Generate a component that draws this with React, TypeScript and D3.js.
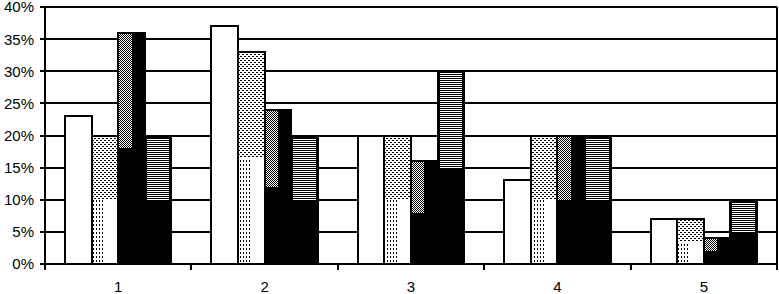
import React, { useEffect, useRef } from "react";
import * as d3 from "d3";

const categories = ["1", "2", "3", "4", "5"];
const seriesNames = ["white", "dotted", "checker", "striped"];
const whiteValues = [23, 37, 20, 13, 7];
const dottedValues = [20, 33, 20, 20, 7];
const checkerValues = [36, 24, 16, 20, 4];
const stripedValues = [20, 20, 30, 20, 10];
const yTicks = [0, 5, 10, 15, 20, 25, 30, 35, 40];

export default function App() {
  const ref = useRef<SVGSVGElement | null>(null);

  useEffect(() => {
    draw();
  }, []);

  const draw = () => {
    const svg = d3.select(ref.current);
    svg.selectAll("*").remove();

    const width = 779;
    const height = 294;
    const left = 45;
    const right = 777;
    const top = 7;
    const bottom = 264;

    svg.attr("width", width).attr("height", height);

    const defs = svg.append("defs");
    const pat = (id: string, w: number, h: number, cells: number[][]) => {
      const p = defs
        .append("pattern")
        .attr("id", id)
        .attr("patternUnits", "userSpaceOnUse")
        .attr("width", w)
        .attr("height", h);
      p.append("rect").attr("width", w).attr("height", h).attr("fill", "#fff");
      cells.forEach((c) => {
        p.append("rect")
          .attr("x", c[0])
          .attr("y", c[1])
          .attr("width", c[2])
          .attr("height", c[3])
          .attr("fill", "#000");
      });
    };
    pat("dash", 4, 4, [[0, 0, 2, 1], [2, 2, 2, 1]]);
    pat("vdash", 3, 4, [[0, 0, 1, 2]]);
    pat("checker", 2, 2, [[0, 0, 1, 1], [1, 1, 1, 1]]);
    pat("stripes", 2, 2, [[0, 0, 2, 1]]);

    const x = d3.scaleBand().domain(categories).range([left, right]).padding(0);
    const xs = d3
      .scaleBand()
      .domain(seriesNames)
      .range([0, x.bandwidth()])
      .paddingInner(0)
      .paddingOuter(0.75);
    const y = d3.scaleLinear().domain([0, 40]).range([bottom, top]);

    const g = svg.append("g").attr("shape-rendering", "crispEdges");

    // gridlines
    g.selectAll(".grid")
      .data(yTicks.filter((t) => t > 0))
      .enter()
      .append("line")
      .attr("x1", left)
      .attr("x2", right)
      .attr("y1", (d) => y(d))
      .attr("y2", (d) => y(d))
      .attr("stroke", "#000")
      .attr("stroke-width", 2);

    const bars = g.append("g");
    categories.forEach((c, i) => {
      const base = y(0);
      const w = xs.bandwidth();

      // white
      let x0 = (x(c) as number) + (xs("white") as number);
      bars.append("rect")
        .attr("x", x0)
        .attr("y", y(whiteValues[i]))
        .attr("width", w)
        .attr("height", base - y(whiteValues[i]))
        .attr("fill", "#fff")
        .attr("stroke", "#000")
        .attr("stroke-width", 2);

      // dotted
      x0 = (x(c) as number) + (xs("dotted") as number);
      let v = dottedValues[i];
      bars.append("rect")
        .attr("x", x0)
        .attr("y", y(v))
        .attr("width", w)
        .attr("height", base - y(v))
        .attr("fill", "#fff")
        .attr("stroke", "#000")
        .attr("stroke-width", 2);
      bars.append("rect")
        .attr("x", x0 + 1)
        .attr("y", y(v) + 1)
        .attr("width", w - 2)
        .attr("height", y(v / 2) - y(v) - 1)
        .attr("fill", "url(#dash)");
      bars.append("rect")
        .attr("x", x0 + 1)
        .attr("y", y(v / 2))
        .attr("width", w / 2 - 1)
        .attr("height", base - y(v / 2) - 1)
        .attr("fill", "url(#vdash)");

      // checker
      x0 = (x(c) as number) + (xs("checker") as number);
      v = checkerValues[i];
      bars.append("rect")
        .attr("x", x0)
        .attr("y", y(v))
        .attr("width", w)
        .attr("height", base - y(v))
        .attr("fill", "#000")
        .attr("stroke", "#000")
        .attr("stroke-width", 2);
      bars.append("rect")
        .attr("x", x0 + 1)
        .attr("y", y(v) + 1)
        .attr("width", w / 2 - 1)
        .attr("height", y(v / 2) - y(v) - 1)
        .attr("fill", "url(#checker)");

      // striped
      x0 = (x(c) as number) + (xs("striped") as number);
      v = stripedValues[i];
      bars.append("rect")
        .attr("x", x0)
        .attr("y", y(v))
        .attr("width", w)
        .attr("height", base - y(v))
        .attr("fill", "#000")
        .attr("stroke", "#000")
        .attr("stroke-width", 2);
      bars.append("rect")
        .attr("x", x0 + 2)
        .attr("y", y(v) + 2)
        .attr("width", w - 4)
        .attr("height", y(v / 2) - y(v) - 2)
        .attr("fill", "url(#stripes)");
    });

    // axes
    const axis = g.append("g").attr("stroke", "#000").attr("stroke-width", 2);
    axis.append("line").attr("x1", left).attr("x2", left).attr("y1", top).attr("y2", bottom + 6);
    axis.append("line").attr("x1", right).attr("x2", right).attr("y1", top).attr("y2", bottom + 6);
    axis.append("line").attr("x1", left).attr("x2", right).attr("y1", bottom).attr("y2", bottom);
    yTicks.forEach((t) => {
      axis.append("line").attr("x1", left - 5).attr("x2", left).attr("y1", y(t)).attr("y2", y(t));
    });
    categories.forEach((c) => {
      const xb = (x(c) as number) + x.bandwidth();
      axis.append("line").attr("x1", xb).attr("x2", xb).attr("y1", bottom).attr("y2", bottom + 6);
    });

    const font = "'Liberation Sans', Arial, sans-serif";
    svg.append("g")
      .selectAll("text")
      .data(yTicks)
      .enter()
      .append("text")
      .attr("x", 34)
      .attr("y", (d) => y(d))
      .attr("dy", "0.36em")
      .attr("text-anchor", "end")
      .attr("font-family", font)
      .attr("font-size", 15)
      .text((d) => d + "%");

    svg.append("g")
      .selectAll("text")
      .data(categories)
      .enter()
      .append("text")
      .attr("x", (d) => (x(d) as number) + x.bandwidth() / 2)
      .attr("y", 292)
      .attr("text-anchor", "middle")
      .attr("font-family", font)
      .attr("font-size", 15)
      .text((d) => d);
  };

  return (
    <svg
      ref={ref}
      style={{ position: "absolute", left: 0, top: 0, display: "block" }}
    ></svg>
  );
}
